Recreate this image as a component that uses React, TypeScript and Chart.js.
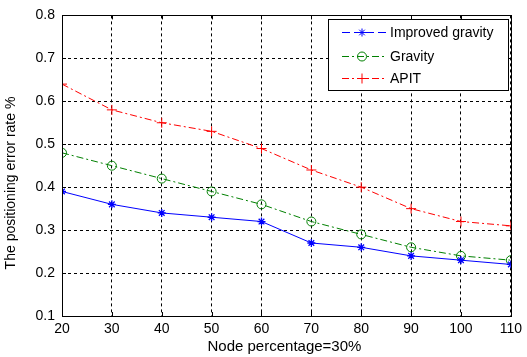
import React, { useEffect, useRef } from "react";
import { Chart, registerables } from "chart.js";

Chart.register(...registerables);

const xValues = [20, 30, 40, 50, 60, 70, 80, 90, 100, 110];
const improvedGravity = [0.39, 0.36, 0.34, 0.33, 0.32, 0.27, 0.26, 0.24, 0.23, 0.22];
const gravity = [0.48, 0.45, 0.42, 0.39, 0.36, 0.32, 0.29, 0.26, 0.24, 0.23];
const apit = [0.64, 0.58, 0.55, 0.53, 0.49, 0.44, 0.40, 0.35, 0.32, 0.31];
const seriesNames = ["Improved gravity", "Gravity", "APIT"];
const xTitle = "Node percentage=30%";
const yTitle = "The positioning error rate %";

const FONT = "Arial, 'Liberation Sans', sans-serif";
const DASHDOT = [7, 3, 2, 3];

function drawMarker(ctx: CanvasRenderingContext2D, style: string, x: number, y: number, r: number, color: string) {
  ctx.save();
  ctx.strokeStyle = color;
  ctx.lineWidth = 1;
  ctx.setLineDash([]);
  ctx.beginPath();
  if (style === "circle") {
    ctx.arc(x, y, r, 0, Math.PI * 2);
  } else if (style === "cross") {
    ctx.moveTo(x - r, y);
    ctx.lineTo(x + r, y);
    ctx.moveTo(x, y - r);
    ctx.lineTo(x, y + r);
  } else {
    ctx.moveTo(x - r, y);
    ctx.lineTo(x + r, y);
    ctx.moveTo(x, y - r);
    ctx.lineTo(x, y + r);
    const d = r * 0.7;
    ctx.moveTo(x - d, y - d);
    ctx.lineTo(x + d, y + d);
    ctx.moveTo(x - d, y + d);
    ctx.lineTo(x + d, y - d);
  }
  ctx.stroke();
  ctx.restore();
}

const decorPlugin = {
  id: "matlabDecor",
  afterDraw(chart: any) {
    const { ctx, chartArea } = chart;
    const { left, right, top, bottom } = chartArea;
    const xs = chart.scales.x;
    const ys = chart.scales.y;
    ctx.save();
    ctx.strokeStyle = "#000";
    ctx.lineWidth = 1;
    ctx.setLineDash([]);
    ctx.strokeRect(Math.round(left) + 0.5, Math.round(top) + 0.5, Math.round(right - left), Math.round(bottom - top));
    ctx.beginPath();
    xs.ticks.forEach((t: any) => {
      const px = Math.round(xs.getPixelForValue(t.value)) + 0.5;
      ctx.moveTo(px, bottom);
      ctx.lineTo(px, bottom - 4);
      ctx.moveTo(px, top);
      ctx.lineTo(px, top + 4);
    });
    ys.ticks.forEach((t: any) => {
      const py = Math.round(ys.getPixelForValue(t.value)) + 0.5;
      ctx.moveTo(left, py);
      ctx.lineTo(left + 4, py);
      ctx.moveTo(right, py);
      ctx.lineTo(right - 4, py);
    });
    ctx.stroke();

    ctx.fillStyle = "#000";
    ctx.textAlign = "center";
    ctx.textBaseline = "middle";
    ctx.font = `15px ${FONT}`;
    ctx.fillText(xTitle, (left + right) / 2 - 2, 347);
    ctx.font = `14px ${FONT}`;
    ctx.save();
    ctx.translate(11, 183);
    ctx.rotate(-Math.PI / 2);
    ctx.fillText(yTitle, 0, 0);
    ctx.restore();

    const bx = 328.5, by = 19.5, bw = 180, bh = 71;
    ctx.fillStyle = "#fff";
    ctx.fillRect(bx, by, bw, bh);
    ctx.strokeStyle = "#000";
    ctx.strokeRect(bx, by, bw, bh);
    const rows = [32, 56, 78];
    const colors = ["#0000ff", "#008000", "#ff0000"];
    const dashes = [[8, 4], DASHDOT, DASHDOT];
    const styles = ["star", "circle", "cross"];
    const radii = [4, 4.5, 5];
    rows.forEach((ry, i) => {
      ctx.strokeStyle = colors[i];
      ctx.lineWidth = 1;
      ctx.setLineDash(dashes[i] as number[]);
      ctx.beginPath();
      ctx.moveTo(342, ry + 0.5);
      ctx.lineTo(387, ry + 0.5);
      ctx.stroke();
      ctx.setLineDash([]);
      drawMarker(ctx, styles[i], 362, ry + 0.5, radii[i], colors[i]);
      ctx.fillStyle = "#000";
      ctx.font = `14px ${FONT}`;
      ctx.textAlign = "left";
      ctx.textBaseline = "middle";
      ctx.fillText(seriesNames[i], 390, ry + 1);
    });
    ctx.restore();
  },
};

export default function App() {
  const ref = useRef<HTMLCanvasElement>(null);
  useEffect(() => {
    document.body.style.margin = "0";
    const mk = (v: number[]) => xValues.map((x, i) => ({ x, y: v[i] }));
    const chart = new Chart(ref.current!, {
      type: "line",
      data: {
        datasets: [
          {
            label: seriesNames[0],
            data: mk(improvedGravity),
            borderColor: "#0000ff",
            backgroundColor: "#0000ff",
            borderWidth: 1,
            pointStyle: "star",
            pointRadius: 4,
            pointBorderColor: "#0000ff",
            pointBorderWidth: 1.3,
          },
          {
            label: seriesNames[1],
            data: mk(gravity),
            borderColor: "#008000",
            backgroundColor: "rgba(0,0,0,0)",
            borderWidth: 1,
            borderDash: DASHDOT,
            pointStyle: "circle",
            pointRadius: 4.5,
            pointBorderColor: "#008000",
            pointBackgroundColor: "rgba(0,0,0,0)",
            pointBorderWidth: 1,
          },
          {
            label: seriesNames[2],
            data: mk(apit),
            borderColor: "#ff0000",
            backgroundColor: "#ff0000",
            borderWidth: 1,
            borderDash: DASHDOT,
            pointStyle: "cross",
            pointRadius: 5,
            pointBorderColor: "#ff0000",
            pointBorderWidth: 1,
          },
        ],
      },
      options: {
        animation: false,
        responsive: false,
        devicePixelRatio: 1,
        layout: { padding: { left: 0, top: 13, right: 15, bottom: 0 } },
        plugins: { legend: { display: false }, tooltip: { enabled: false } },
        scales: {
          x: {
            type: "linear",
            min: 20,
            max: 110,
            afterFit: (s: any) => {
              s.height = 41;
            },
            ticks: {
              stepSize: 10,
              color: "#000",
              font: { family: FONT, size: 14 },
              padding: 5,
              maxRotation: 0,
            },
            grid: { color: "#000", lineWidth: 1, drawTicks: false },
            border: { display: false, dash: [3, 3] },
          },
          y: {
            type: "linear",
            min: 0.1,
            max: 0.8,
            afterFit: (s: any) => {
              s.width = 62;
            },
            ticks: {
              stepSize: 0.1,
              color: "#000",
              font: { family: FONT, size: 14 },
              padding: 7,
              callback: (v: any) => Number(v).toFixed(1),
            },
            grid: { color: "#000", lineWidth: 1, drawTicks: false },
            border: { display: false, dash: [3, 3] },
          },
        },
      },
      plugins: [decorPlugin],
    } as any);
    return () => chart.destroy();
  }, []);
  return <canvas ref={ref} width={527} height={357} style={{ display: "block", background: "#fff" }} />;
}
